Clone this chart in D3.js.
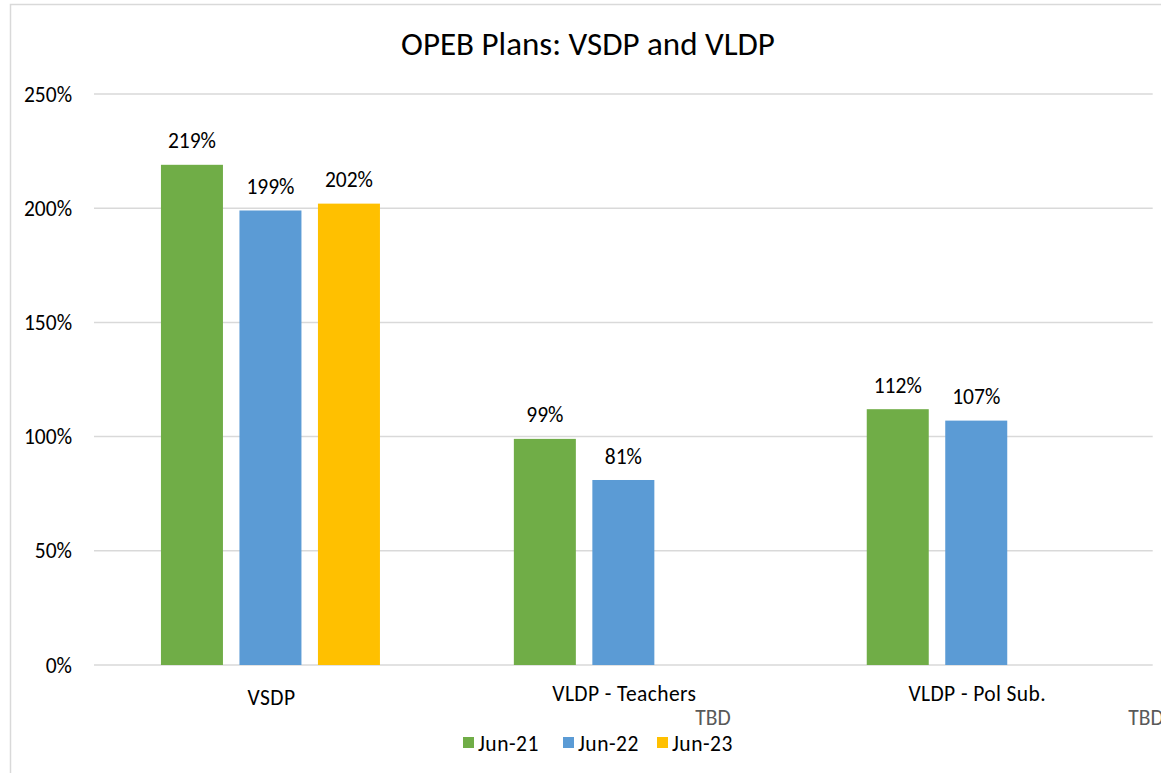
<!DOCTYPE html>
<html><head><meta charset="utf-8">
<script src="https://cdn.jsdelivr.net/npm/d3@7"></script>
<style>
html,body{margin:0;padding:0;background:#fff;overflow:hidden;}
text{font-family:Carlito,"Liberation Sans",Arial,sans-serif;}
</style></head>
<body><svg id="chart" width="1161" height="773"></svg>
<script>
const title = "OPEB Plans: VSDP and VLDP";
const categories = ["VSDP", "VLDP - Teachers", "VLDP - Pol Sub."];
const seriesNames = ["Jun-21", "Jun-22", "Jun-23"];
const jun21 = [219, 99, 112];
const jun22 = [199, 81, 107];
const jun23 = [202, null, null];
const yTicks = [0, 50, 100, 150, 200, 250];
const colors = ["#70AD47", "#5B9BD5", "#FFC000"];
const notes = [{cat: "VLDP - Teachers", text: "TBD"}, {cat: "VLDP - Pol Sub.", text: "TBD"}];

const series = [jun21, jun22, jun23];
const svg = d3.select("#chart");
const plot = {left: 94, right: 1152.7, top: 94, bottom: 665};
const FS = 21.5;

// chart area border
svg.append("rect").attr("x", 10.5).attr("y", 4.5).attr("width", 1300).attr("height", 900)
  .attr("fill", "#fff").attr("stroke", "#D9D9D9").attr("stroke-width", 1.5);

const x = d3.scaleBand().domain(categories).range([plot.left, plot.right]).paddingInner(0).paddingOuter(0);
const y = d3.scaleLinear().domain([0, 250]).range([plot.bottom, plot.top]);

// gridlines
svg.append("g").selectAll("line").data(yTicks).join("line")
  .attr("x1", plot.left).attr("x2", plot.right)
  .attr("y1", d => y(d)).attr("y2", d => y(d))
  .attr("stroke", "#D9D9D9").attr("stroke-width", 1.5);

// y tick labels
svg.append("g").selectAll("text").data(yTicks).join("text")
  .attr("x", 72).attr("y", d => y(d)).attr("dy", "0.35em")
  .attr("text-anchor", "end").attr("font-size", FS).attr("fill", "#000")
  .text(d => d + "%");

// bars
const barW = 62, gap = 16.5;
const inner = d3.scaleBand().domain(d3.range(series.length)).range([0, 3 * barW + 2 * gap]).paddingInner(gap / (barW + gap));
const groupOffset = (x.bandwidth() - (3 * barW + 2 * gap)) / 2;

series.forEach((vals, si) => {
  const g = svg.append("g");
  const data = categories.map((c, i) => ({c, v: vals[i]})).filter(d => d.v != null);
  g.selectAll("rect").data(data).join("rect")
    .attr("x", d => x(d.c) + groupOffset + inner(si))
    .attr("width", inner.bandwidth())
    .attr("y", d => y(d.v)).attr("height", d => y(0) - y(d.v))
    .attr("fill", colors[si]);
  g.selectAll("text").data(data).join("text")
    .attr("x", d => x(d.c) + groupOffset + inner(si) + inner.bandwidth() / 2)
    .attr("y", d => y(d.v) - 24).attr("dy", "0.35em")
    .attr("text-anchor", "middle").attr("font-size", FS).attr("fill", "#000")
    .text(d => d.v + "%");
});

// category labels
svg.append("g").selectAll("text").data(categories).join("text")
  .attr("x", d => x(d) + x.bandwidth() / 2 + 1)
  .attr("y", (d, i) => i === 0 ? 697 : 693).attr("dy", "0.35em")
  .attr("text-anchor", "middle").attr("font-size", FS).attr("fill", "#000")
  .attr("letter-spacing", 0.4)
  .text(d => d);

// TBD notes
svg.append("g").selectAll("text").data(notes).join("text")
  .attr("x", (d, i) => x(d.cat) + x.bandwidth() / 2 + (i === 0 ? 72 : 152))
  .attr("y", 717).attr("dy", "0.35em")
  .attr("font-size", FS).attr("fill", "#595959")
  .text(d => d.text);

// legend
const legend = svg.append("g");
const legX = [463, 563, 657];
seriesNames.forEach((n, i) => {
  legend.append("rect").attr("x", legX[i]).attr("y", 737).attr("width", 11).attr("height", 11).attr("fill", colors[i]);
  legend.append("text").attr("x", legX[i] + 15).attr("y", 743).attr("dy", "0.35em")
    .attr("font-size", FS).attr("fill", "#000").attr("letter-spacing", 0.5).text(n);
});

// title
svg.append("text").attr("x", 588).attr("y", 43).attr("dy", "0.35em")
  .attr("text-anchor", "middle").attr("font-size", 33).attr("fill", "#000").text(title);
</script>
</body></html>
